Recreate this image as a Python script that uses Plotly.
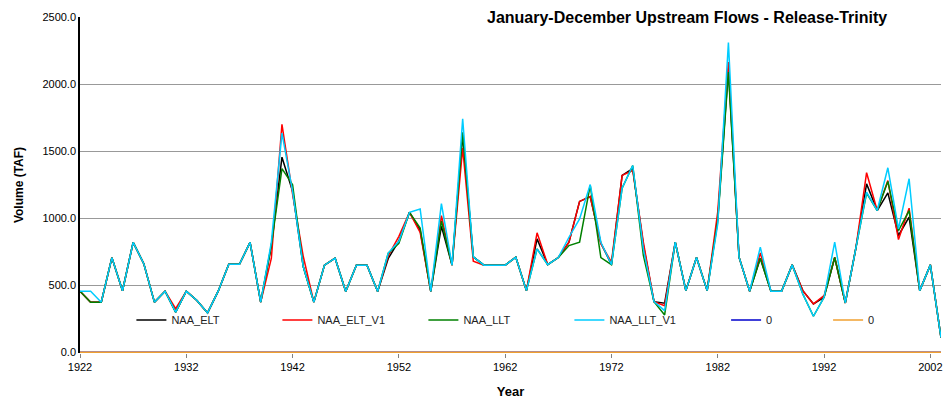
import plotly.graph_objects as go

years = list(range(1922, 2004))

naa_elt = [455, 374, 374, 706, 459, 820, 661, 374, 456, 300, 456, 387, 294, 456, 656, 656, 820, 374, 790, 1455,
           1200, 640, 374, 650, 702, 454, 650, 650, 454, 700, 830, 1044, 910, 454, 940, 650, 1620, 712, 650, 650,
           650, 709, 460, 846, 654, 707, 821, 1125, 1162, 815, 654, 1319, 1370, 800, 378, 366, 821, 460, 707, 460,
           1000, 2115, 709, 455, 702, 455, 455, 652, 460, 361, 410, 707, 368, 780, 1256, 1057, 1189, 871, 1008, 460,
           652, 110]
naa_elt_v1 = [455, 374, 374, 706, 459, 820, 661, 374, 456, 325, 456, 387, 294, 456, 656, 656, 820, 374, 700, 1700,
              1180, 716, 374, 650, 702, 454, 650, 650, 454, 720, 865, 1044, 895, 454, 1019, 650, 1523, 679, 650, 650,
              650, 709, 460, 891, 654, 707, 821, 1125, 1162, 809, 672, 1319, 1356, 821, 378, 348, 821, 460, 707, 460,
              1050, 2165, 709, 455, 741, 455, 455, 652, 460, 361, 423, 707, 368, 780, 1339, 1057, 1281, 841, 1075, 460,
              652, 110]
naa_llt = [455, 374, 374, 706, 459, 820, 661, 374, 456, 300, 456, 387, 294, 456, 656, 656, 820, 374, 800, 1370,
           1250, 640, 374, 650, 702, 454, 650, 650, 454, 740, 812, 1044, 927, 454, 979, 650, 1640, 712, 650, 650,
           650, 709, 460, 771, 654, 707, 796, 821, 1244, 707, 654, 1224, 1393, 722, 378, 279, 821, 460, 707, 460,
           980, 2090, 709, 455, 702, 455, 455, 652, 435, 269, 410, 707, 368, 780, 1187, 1057, 1274, 908, 1057, 460,
           652, 110]
naa_llt_v1 = [455, 455, 374, 706, 459, 820, 661, 374, 456, 300, 456, 387, 294, 456, 656, 656, 820, 374, 820, 1634,
              1200, 640, 374, 650, 702, 454, 650, 650, 454, 740, 828, 1044, 1069, 454, 1109, 650, 1741, 712, 650, 650,
              650, 709, 460, 771, 654, 707, 858, 995, 1251, 821, 654, 1224, 1393, 771, 378, 311, 821, 460, 707, 460,
              960, 2309, 709, 455, 784, 455, 455, 652, 435, 269, 410, 821, 368, 780, 1194, 1057, 1376, 920, 1294, 460,
              652, 110]
zero_a = [0] * len(years)
zero_b = [0] * len(years)

series = [
    ("NAA_ELT", naa_elt, "#000000", "legend"),
    ("NAA_ELT_V1", naa_elt_v1, "#FF0000", "legend"),
    ("NAA_LLT", naa_llt, "#008000", "legend"),
    ("NAA_LLT_V1", naa_llt_v1, "#00CCFF", "legend"),
    ("0", zero_a, "#0000CC", "legend2"),
    ("0", zero_b, "#F0A030", "legend2"),
]

fig = go.Figure()
for name, vals, col, lg in series:
    fig.add_trace(go.Scatter(x=years, y=vals, name=name, mode="lines", legend=lg,
                             line=dict(color=col, width=1.5)))

font_narrow = "Liberation Sans Narrow, Arial Narrow, Liberation Sans, Arial, sans-serif"

fig.update_layout(
    width=943, height=400,
    margin=dict(l=80, r=0, t=17, b=47),
    paper_bgcolor="white", plot_bgcolor="white",
    font=dict(family=font_narrow, size=11, color="#000000"),
    showlegend=True,
    legend=dict(orientation="h", x=0.0597, y=0.098, xanchor="left", yanchor="middle",
                bgcolor="rgba(0,0,0,0)", font=dict(size=11, color="#222222"),
                entrywidth=101, entrywidthmode="pixels", itemwidth=30, tracegroupgap=0),
    legend2=dict(orientation="h", x=0.7504, y=0.098, xanchor="left", yanchor="middle",
                 bgcolor="rgba(0,0,0,0)", font=dict(size=11, color="#222222"),
                 entrywidth=57, entrywidthmode="pixels", itemwidth=30, tracegroupgap=0),
    xaxis=dict(range=[1922, 2003], tickmode="array", tickvals=list(range(1922, 2004, 10)),
               ticktext=[str(v) for v in range(1922, 2004, 10)],
               ticklabeloverflow="allow",
               showgrid=False, showline=False,
               ticks="outside", ticklen=4, tickcolor="#808080",
               title=dict(text="<b>Year</b>", font=dict(size=13, family=font_narrow), standoff=14),
               zeroline=False),
    yaxis=dict(range=[-5, 2500], tickvals=[0, 500, 1000, 1500, 2000, 2500], tickformat=".1f",
               showgrid=True, gridcolor="#999999", gridwidth=1,
               showline=True, linecolor="#000000", linewidth=1.5,
               zeroline=False, ticks="",
               title=dict(text="<b>Volume (TAF)</b>", font=dict(size=12, family=font_narrow), standoff=16)),
    annotations=[dict(text="<b>January-December Upstream Flows - Release-Trinity</b>",
                      xref="paper", yref="paper", x=0.7045, y=1.0, xanchor="center", yanchor="middle",
                      showarrow=False, bgcolor="white", borderpad=2,
                      font=dict(size=16, family=font_narrow, color="#000000"))],
)

fig.write_html("out.html", config={"displayModeBar": False},
               post_script="document.body.style.margin='0px';document.body.style.overflow='hidden';")
